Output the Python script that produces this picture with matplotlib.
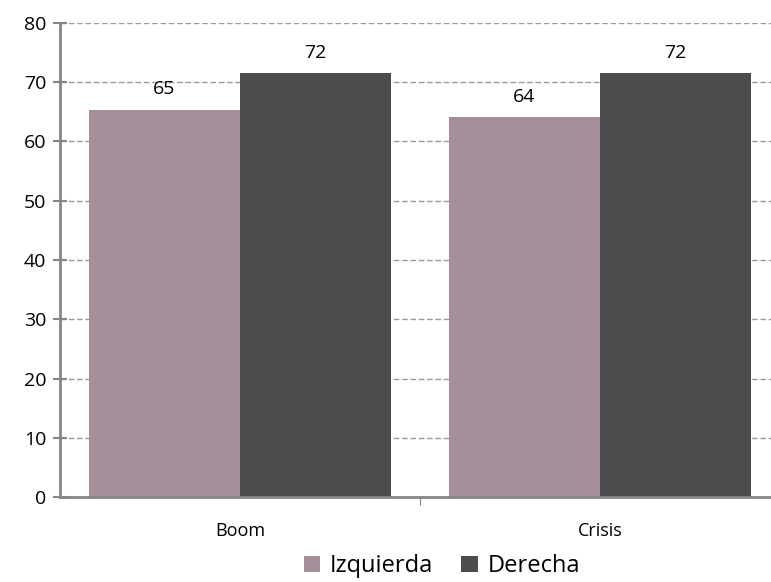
import matplotlib.pyplot as plt
import numpy as np

categories = ['Boom', 'Crisis']
izquierda = [65.4, 64.1]
derecha = [71.6, 71.6]
series_names = ['Izquierda', 'Derecha']
y_ticks = [0, 10, 20, 30, 40, 50, 60, 70, 80]

plt.rcParams['font.family'] = ['Open Sans', 'DejaVu Sans']

fig = plt.figure(figsize=(7.71, 5.82), dpi=100)
ax = fig.add_axes([60 / 771, 85 / 582, 720 / 771, 474 / 582])

x = np.arange(len(categories))
w = 0.42
b1 = ax.bar(x - w / 2, izquierda, w, color='#A38E99', label=series_names[0], zorder=2)
b2 = ax.bar(x + w / 2, derecha, w, color='#4B4C4E', label=series_names[1], zorder=2)

for bars in (b1, b2):
    for r in bars:
        ax.annotate(f'{r.get_height():.0f}', (r.get_x() + r.get_width() / 2, r.get_height()),
                    xytext=(0, 8), textcoords='offset points', ha='center', va='bottom',
                    fontsize=14, color='black')

ax.set_xlim(-0.5, 1.5)
ax.set_ylim(0, 80)
ax.set_yticks(y_ticks)
ax.set_xticks(x)
ax.set_xticklabels(categories, fontsize=13)
ax.set_xticks([0.5], minor=True)
ax.tick_params(axis='y', labelsize=14, direction='inout', length=10, width=1.5, color='#868686', pad=5)
ax.tick_params(axis='x', which='major', length=0, pad=18)
ax.tick_params(axis='x', which='minor', direction='out', length=6, width=0.8, color='#868686')

ax.grid(axis='y', linestyle=(0, (4, 2)), color='#9a9a9a', linewidth=1, zorder=0)
ax.set_axisbelow(True)
for s in ('top', 'right'):
    ax.spines[s].set_visible(False)
ax.spines['left'].set_color('#868686')
ax.spines['left'].set_linewidth(2)
ax.spines['bottom'].set_color('#868686')
ax.spines['bottom'].set_linewidth(2)

fig.legend(loc='lower center', bbox_to_anchor=(0.573, -0.03), ncol=2, frameon=False,
           fontsize=17, handlelength=0.7, handleheight=0.7, handletextpad=0.4, columnspacing=1.2)

fig.savefig('out.png', dpi=100)
